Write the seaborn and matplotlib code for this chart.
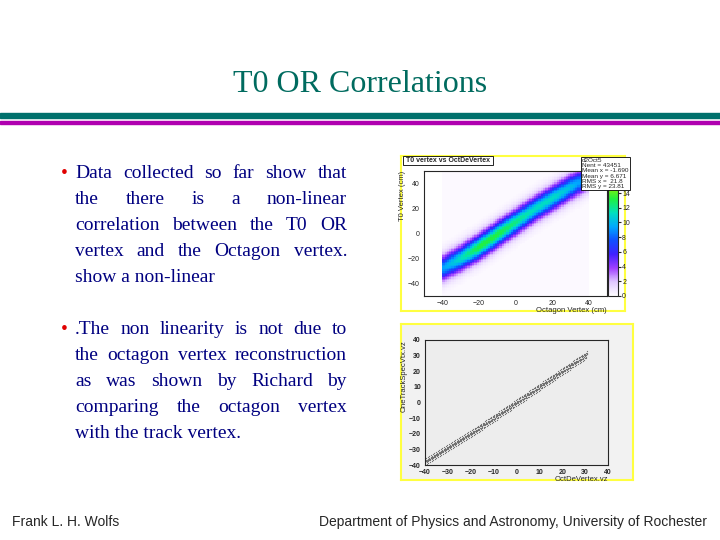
import numpy as np
import matplotlib
matplotlib.use("Agg")
import matplotlib.pyplot as plt
import seaborn as sns
from matplotlib.colors import LinearSegmentedColormap

# ridge of the T0 vs octagon vertex band
ridge_x = [-40, -30, -20, -10, 0, 10, 20, 30, 40]
ridge_y = [-28, -20, -11, -1, 9, 19, 28, 37, 45]
ridge_peak = [9, 11, 13, 13, 12, 11, 11, 10, 8]
band_width = 6.5

# one-track vertex vs octagon vertex (nearly 1:1)
line_x = [-40, -30, -20, -10, 0, 10, 20, 31]
line_y = [-38, -29, -20, -10, 0, 10, 20, 31]

stats_lines = ["Nent = 43451", "Mean x = -1.690", "Mean y = 6.671",
               "RMS x =  21.8", "RMS y = 23.81"]

para1 = ["Data collected so far show that", "the there is a non-linear",
         "correlation between the T0 OR", "vertex and the Octagon vertex.",
         "show a non-linear"]
para2 = [".The non linearity is not due to", "the octagon vertex reconstruction",
         "as was shown by Richard by", "comparing the octagon vertex",
         "with the track vertex."]

sns.set_style("white")
plt.rcParams["font.family"] = ["Liberation Serif", "DejaVu Serif"]

W, H = 720, 540
fig = plt.figure(figsize=(7.2, 5.4), dpi=100)


def box(x0, y0, x1, y1):
    return [x0 / W, 1 - y1 / H, (x1 - x0) / W, (y1 - y0) / H]


def fy(y):
    return 1 - y / H


fig.text(0.5, fy(85), "T0 OR Correlations", ha="center", va="center",
         fontsize=23, color="#006b5f")
fig.add_artist(plt.Rectangle((0, fy(118)), 1, 5 / H, color="#00706c",
                             transform=fig.transFigure))
fig.add_artist(plt.Rectangle((0, fy(123.5)), 1, 2.5 / H, color="#b000b0",
                             transform=fig.transFigure))

text_color = "#000080"
renderer = fig.canvas.get_renderer()
x_left, x_right = 75, 347
fs = 14


def justified(lines, y0):
    for i, line in enumerate(lines):
        y = fy(y0 + 26 * i)
        words = line.split()
        if i == len(lines) - 1:
            fig.text(x_left / W, y, line, fontsize=fs, color=text_color, va="center")
            continue
        arts = [fig.text(0, y, w, fontsize=fs, color=text_color, va="center")
                for w in words]
        widths = [a.get_window_extent(renderer).width for a in arts]
        gap = (x_right - x_left - sum(widths)) / (len(words) - 1)
        x = x_left
        for a, w in zip(arts, widths):
            a.set_x(x / W)
            x += w + gap
    fig.text(61 / W, fy(y0), "\u2022", fontsize=fs, color="#e00000", va="center")


justified(para1, 173)
justified(para2, 329)

fig.text(12 / W, fy(522), "Frank L. H. Wolfs", fontsize=10,
         family=["Liberation Sans"], va="center")
fig.text(707 / W, fy(522), "Department of Physics and Astronomy, University of Rochester",
         fontsize=10, family=["Liberation Sans"], va="center", ha="right")

# ---- top plot: 2D histogram
frame1 = fig.add_axes(box(401, 156, 625, 311))
frame1.set_xticks([]); frame1.set_yticks([])
for s in frame1.spines.values():
    s.set_color("#ffff40"); s.set_linewidth(1.5)

ax1 = fig.add_axes(box(424, 171, 607, 296))
edges = np.arange(-50, 50.1, 1.25)
cx = (edges[:-1] + edges[1:]) / 2
gx, gy = np.meshgrid(cx, cx)
centre = np.interp(gx, ridge_x, ridge_y)
peak = np.interp(gx, ridge_x, ridge_peak)
wts = peak * np.exp(-0.5 * ((gy - centre) / band_width) ** 2)
wts = wts + 0.25
wts[wts < 0.3] = 0.25
wts[gx < -40] = 0
wts[gx > 40] = 0
root_cmap = LinearSegmentedColormap.from_list(
    "root", ["#ffffff", "#e0c8ff", "#a040ff", "#4020ff", "#1050ff",
             "#00a8ff", "#00e0c0", "#20f040", "#a0f000", "#ffff00"])
cbar_ax = fig.add_axes(box(608, 171, 618, 296))
sns.histplot(x=gx.ravel(), y=gy.ravel(), weights=wts.ravel(), bins=[edges, edges],
             cmap=root_cmap, vmin=0, vmax=17, ax=ax1, cbar=True, cbar_ax=cbar_ax,
             cbar_kws={"ticks": [0, 2, 4, 6, 8, 10, 12, 14]})
ax1.set_xlim(-50, 50); ax1.set_ylim(-50, 50)
ax1.set_xticks([-40, -20, 0, 20, 40]); ax1.set_yticks([-40, -20, 0, 20, 40])
ax1.tick_params(labelsize=5, length=2, pad=1)
ax1.set_xlabel("Octagon Vertex (cm)", fontsize=5.5, family=["Liberation Sans"],
               loc="right", labelpad=0)
ax1.set_ylabel("T0 Vertex (cm)", fontsize=5.5, family=["Liberation Sans"],
               loc="top", labelpad=1)
cbar_ax.tick_params(labelsize=5, length=2, pad=1)
for a in (ax1, cbar_ax):
    for lab in a.get_xticklabels() + a.get_yticklabels():
        lab.set_family("Liberation Sans")
fig.text(404 / W, fy(160.5), " T0 vertex vs OctDeVertex ", fontsize=5,
         family=["Liberation Sans"], weight="bold", va="center",
         bbox=dict(facecolor="white", edgecolor="black", pad=0.6, linewidth=0.6))
fig.text(582 / W, fy(158), "\n".join(["d2Oct5"] + stats_lines), fontsize=4.6,
         family=["Liberation Sans"], va="top", linespacing=1.05, zorder=10,
         bbox=dict(facecolor="white", edgecolor="black", pad=0.8, linewidth=0.6))

# ---- bottom plot: scatter
frame2 = fig.add_axes(box(401, 324, 633, 480))
frame2.set_xticks([]); frame2.set_yticks([])
frame2.set_facecolor("#f2f2f2")
for s in frame2.spines.values():
    s.set_color("#ffff40"); s.set_linewidth(1.5)

ax2 = fig.add_axes(box(425, 340, 608, 465))
ax2.set_facecolor("#ededed")
px = np.linspace(-40, 31, 700)
py = np.interp(px, line_x, line_y)
offs = np.tile([-2.2, -1.1, -0.4, 0.3, 1.0, 1.8, -0.2], 100)
sns.scatterplot(x=px, y=py + offs, s=0.8, color="#707070", linewidth=0, ax=ax2)
ax2.set_xlim(-40, 40); ax2.set_ylim(-40, 40)
ax2.set_xticks(range(-40, 41, 10)); ax2.set_yticks(range(-40, 41, 10))
ax2.tick_params(labelsize=5, length=2, pad=1)
for lab in ax2.get_xticklabels() + ax2.get_yticklabels():
    lab.set_family("Liberation Sans"); lab.set_weight("bold")
ax2.set_xlabel("OctDeVertex.vz", fontsize=5.5, family=["Liberation Sans"],
               loc="right", labelpad=0)
ax2.set_ylabel("OneTrackSpecVtx.vz", fontsize=5.5, family=["Liberation Sans"],
               loc="top", labelpad=1)

fig.savefig("out.png", dpi=100)
